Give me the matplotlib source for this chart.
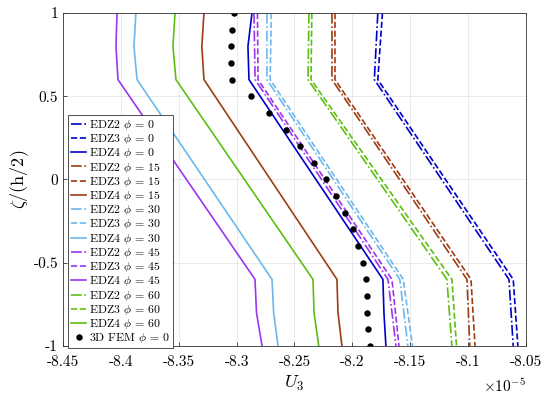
import numpy as np
import matplotlib
matplotlib.use('Agg')
import matplotlib.pyplot as plt
from matplotlib.ticker import FuncFormatter

plt.rcParams['font.family'] = 'cmr10'
plt.rcParams['mathtext.fontset'] = 'cm'
plt.rcParams['axes.unicode_minus'] = False

# valores de U3 (x 1e-5)
zeta_dash = [1, 0.6, -0.6, -1]
zeta_solid = [1, 0.8, 0.6, -0.6, -0.8, -1]

phis = [0, 15, 30, 45, 60]
cores = ['#0000CC', '#A03A12', '#6CB8EE', '#9B35F0', '#5DBE12']

edz2 = [
    [-8.178, -8.181, -8.0647, -8.061],
    [-8.2176, -8.2176, -8.101, -8.0985],
    [-8.2738, -8.2738, -8.159, -8.152],
    [-8.285, -8.284, -8.1692, -8.1623],
    [-8.2375, -8.2383, -8.1183, -8.114],
]
edz3 = [
    [-8.174, -8.178, -8.061, -8.057],
    [-8.215, -8.215, -8.0975, -8.094],
    [-8.270, -8.271, -8.156, -8.148],
    [-8.282, -8.2815, -8.1658, -8.1597],
    [-8.235, -8.2357, -8.114, -8.110],
]
edz4 = [
    [-8.2867, -8.2902, -8.2893, -8.1736, -8.1727, -8.171],
    [-8.3282, -8.330, -8.3282, -8.2133, -8.2124, -8.209],
    [-8.387, -8.3887, -8.386, -8.2694, -8.268, -8.2642],
    [-8.4033, -8.4042, -8.4025, -8.2841, -8.2828, -8.278],
    [-8.3532, -8.355, -8.3524, -8.234, -8.2331, -8.229],
]

zeta_fem = [1, 0.9, 0.8, 0.7, 0.6, 0.5, 0.4, 0.3, 0.2, 0.1, 0,
            -0.1, -0.2, -0.3, -0.4, -0.5, -0.6, -0.7, -0.8, -0.9, -1]
u3_fem = [-8.3023, -8.3037, -8.3046, -8.3046, -8.304, -8.2876, -8.272,
          -8.2576, -8.2452, -8.2331, -8.2228, -8.2141, -8.2064, -8.1997,
          -8.1949, -8.1906, -8.1882, -8.1876, -8.1876, -8.1867, -8.1848]

fig = plt.figure(figsize=(5.5, 3.96), dpi=100)
ax = fig.add_axes([0.1145, 0.1263, 0.8418, 0.8409])

lw = 1.2
for i, phi in enumerate(phis):
    ax.plot(edz2[i], zeta_dash, '-.', color=cores[i], lw=lw,
            label=r'EDZ2 $\phi$ = %d' % phi)
    ax.plot(edz3[i], zeta_dash, '--', color=cores[i], lw=lw,
            label=r'EDZ3 $\phi$ = %d' % phi)
    ax.plot(edz4[i], zeta_solid, '-', color=cores[i], lw=lw,
            label=r'EDZ4 $\phi$ = %d' % phi)

ax.plot(u3_fem, zeta_fem, 'o', color='k', ms=3.6, ls='none',
        label=r'3D FEM $\phi$ = 0')

ax.set_xlim(-8.45, -8.05)
ax.set_ylim(-1, 1)
ax.set_xticks(np.arange(-8.45, -8.04, 0.05))
ax.set_yticks([-1, -0.5, 0, 0.5, 1])
fmt = FuncFormatter(lambda v, p: '%g' % round(v, 4))
ax.xaxis.set_major_formatter(fmt)
ax.yaxis.set_major_formatter(fmt)
ax.tick_params(direction='in', length=3, labelsize=11, width=0.6, color='#333333')
ax.tick_params(axis='x', pad=7)
ax.grid(True, color='#E6E6E6', lw=0.6)
for s in ax.spines.values():
    s.set_linewidth(0.6)
    s.set_color('#333333')

ax.set_xlabel(r'$U_3$', fontsize=13, labelpad=3)
ax.set_ylabel(r'$\zeta$/(h/2)', fontsize=13, labelpad=2)
ax.text(1.0, -0.095, r'$\times10^{-5}$', transform=ax.transAxes,
        ha='right', va='top', fontsize=11)

leg = ax.legend(loc='upper left', bbox_to_anchor=(0.011, 0.694),
                borderaxespad=0, fontsize=8.5, labelspacing=0.02,
                handlelength=1.3, handletextpad=0.2, borderpad=0.25,
                fancybox=False, framealpha=1)
leg.get_frame().set_edgecolor('#333333')
leg.get_frame().set_linewidth(0.6)

fig.savefig('out.png', dpi=100)
